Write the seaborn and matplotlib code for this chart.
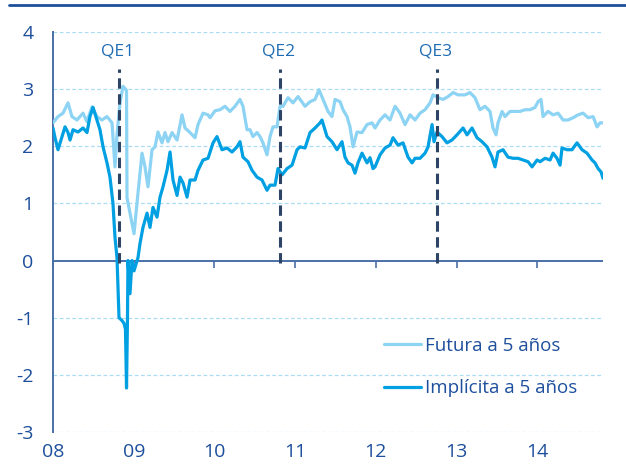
import matplotlib
matplotlib.use("Agg")
import matplotlib.pyplot as plt
import seaborn as sns
import pandas as pd
from matplotlib.lines import Line2D

sns.set_theme(style="white")
plt.rcParams['font.family'] = ['Open Sans', 'DejaVu Sans']
plt.rcParams['axes.unicode_minus'] = False

# ---- data (decimal years, %) ----
fut_t = [2008.000, 2008.062, 2008.124, 2008.186, 2008.235, 2008.297, 2008.372, 2008.421,
         2008.483, 2008.545, 2008.607, 2008.669, 2008.731, 2008.768, 2008.793, 2008.830,
         2008.867, 2008.911, 2008.917, 2008.979, 2009.004, 2009.053, 2009.103, 2009.140,
         2009.177, 2009.227, 2009.264, 2009.301, 2009.351, 2009.388, 2009.425, 2009.475,
         2009.537, 2009.599, 2009.636, 2009.698, 2009.760, 2009.797, 2009.859, 2009.921,
         2009.946, 2010.007, 2010.069, 2010.131, 2010.193, 2010.255, 2010.317, 2010.354,
         2010.404, 2010.441, 2010.478, 2010.528, 2010.565, 2010.602, 2010.652, 2010.689,
         2010.726, 2010.776, 2010.813, 2010.850, 2010.912, 2010.974, 2011.036, 2011.123,
         2011.185, 2011.247, 2011.296, 2011.346, 2011.408, 2011.457, 2011.495, 2011.557,
         2011.594, 2011.643, 2011.680, 2011.718, 2011.767, 2011.829, 2011.891, 2011.953,
         2011.990, 2012.052, 2012.114, 2012.176, 2012.238, 2012.300, 2012.362, 2012.424,
         2012.486, 2012.548, 2012.610, 2012.672, 2012.709, 2012.771, 2012.833, 2012.895,
         2012.957, 2013.019, 2013.105, 2013.167, 2013.229, 2013.291, 2013.353, 2013.415,
         2013.452, 2013.490, 2013.514, 2013.564, 2013.601, 2013.663, 2013.725, 2013.787,
         2013.849, 2013.911, 2013.973, 2014.010, 2014.047, 2014.072, 2014.134, 2014.196,
         2014.258, 2014.320, 2014.382, 2014.444, 2014.506, 2014.568, 2014.630, 2014.692,
         2014.741, 2014.778, 2014.815]
fut_v = [2.41, 2.52, 2.58, 2.76, 2.52, 2.46, 2.58, 2.43,
         2.69, 2.52, 2.46, 2.52, 2.41, 1.64, 2.20, 2.76,
         3.05, 2.98, 1.10, 0.65, 0.47, 1.18, 1.88, 1.64,
         1.29, 1.94, 1.99, 2.25, 2.06, 2.24, 2.08, 2.24,
         2.11, 2.55, 2.32, 2.24, 2.15, 2.38, 2.58, 2.55,
         2.50, 2.62, 2.64, 2.70, 2.61, 2.70, 2.82, 2.70,
         2.29, 2.29, 2.17, 2.24, 2.17, 2.06, 1.85, 2.17,
         2.34, 2.34, 2.70, 2.70, 2.85, 2.76, 2.87, 2.70,
         2.78, 2.82, 2.99, 2.82, 2.61, 2.52, 2.82, 2.78,
         2.64, 2.52, 2.34, 1.99, 2.25, 2.24, 2.38, 2.41,
         2.32, 2.46, 2.55, 2.46, 2.70, 2.58, 2.38, 2.55,
         2.46, 2.58, 2.64, 2.76, 2.90, 2.85, 2.82, 2.87,
         2.94, 2.90, 2.90, 2.94, 2.85, 2.64, 2.70, 2.61,
         2.32, 2.20, 2.41, 2.61, 2.52, 2.61, 2.61, 2.61,
         2.64, 2.64, 2.68, 2.78, 2.82, 2.52, 2.61, 2.55,
         2.58, 2.46, 2.46, 2.50, 2.55, 2.58, 2.50, 2.52,
         2.34, 2.41, 2.41]

imp_t = [2008.000, 2008.025, 2008.062, 2008.112, 2008.149, 2008.186, 2008.211, 2008.248,
         2008.310, 2008.372, 2008.421, 2008.458, 2008.496, 2008.545, 2008.582, 2008.620,
         2008.669, 2008.706, 2008.743, 2008.768, 2008.793, 2008.805, 2008.818, 2008.855,
         2008.880, 2008.898, 2008.911, 2008.923, 2008.929, 2008.954, 2008.979, 2009.004,
         2009.053, 2009.078, 2009.115, 2009.165, 2009.202, 2009.239, 2009.289, 2009.326,
         2009.363, 2009.413, 2009.450, 2009.487, 2009.537, 2009.574, 2009.611, 2009.661,
         2009.698, 2009.760, 2009.797, 2009.859, 2009.921, 2009.983, 2010.032, 2010.094,
         2010.156, 2010.218, 2010.280, 2010.317, 2010.354, 2010.416, 2010.466, 2010.528,
         2010.590, 2010.652, 2010.689, 2010.751, 2010.788, 2010.838, 2010.900, 2010.962,
         2011.024, 2011.061, 2011.123, 2011.185, 2011.247, 2011.309, 2011.333, 2011.395,
         2011.457, 2011.519, 2011.581, 2011.618, 2011.656, 2011.705, 2011.742, 2011.779,
         2011.829, 2011.891, 2011.928, 2011.965, 2011.990, 2012.052, 2012.114, 2012.176,
         2012.213, 2012.275, 2012.337, 2012.399, 2012.449, 2012.486, 2012.548, 2012.610,
         2012.647, 2012.697, 2012.721, 2012.758, 2012.820, 2012.882, 2012.944, 2013.006,
         2013.081, 2013.130, 2013.192, 2013.254, 2013.316, 2013.378, 2013.440, 2013.477,
         2013.514, 2013.576, 2013.638, 2013.700, 2013.762, 2013.824, 2013.886, 2013.936,
         2013.998, 2014.035, 2014.097, 2014.159, 2014.196, 2014.245, 2014.283, 2014.307,
         2014.369, 2014.431, 2014.493, 2014.555, 2014.617, 2014.679, 2014.716, 2014.754,
         2014.791, 2014.815]
imp_v = [2.32, 2.15, 1.94, 2.17, 2.34, 2.24, 2.11, 2.29,
         2.25, 2.32, 2.24, 2.52, 2.68, 2.46, 2.29, 1.99,
         1.71, 1.46, 1.00, 0.41, 0.05, -0.47, -1.00, -1.05,
         -1.10, -1.20, -2.23, -1.00, 0.00, -0.58, 0.00, -0.18,
         0.05, 0.30, 0.58, 0.83, 0.58, 0.93, 0.76, 1.11,
         1.29, 1.58, 1.90, 1.41, 1.14, 1.46, 1.36, 1.11,
         1.41, 1.41, 1.58, 1.76, 1.79, 2.06, 2.17, 1.94,
         1.97, 1.90, 1.99, 2.08, 1.81, 1.73, 1.58, 1.46,
         1.41, 1.23, 1.32, 1.32, 1.61, 1.50, 1.61, 1.67,
         1.94, 1.99, 1.97, 2.24, 2.32, 2.41, 2.46, 2.17,
         2.08, 1.94, 2.08, 1.81, 1.71, 1.67, 1.53, 1.71,
         1.88, 1.71, 1.80, 1.61, 1.64, 1.85, 1.97, 2.02,
         2.15, 2.02, 2.06, 1.81, 1.71, 1.79, 1.79, 1.88,
         1.99, 2.38, 2.08, 2.25, 2.17, 2.06, 2.11, 2.20,
         2.32, 2.20, 2.32, 2.15, 2.08, 1.99, 1.81, 1.64,
         1.90, 1.94, 1.81, 1.79, 1.79, 1.76, 1.73, 1.64,
         1.76, 1.73, 1.79, 1.76, 1.88, 1.79, 1.67, 1.97,
         1.94, 1.94, 2.06, 1.94, 1.88, 1.76, 1.71, 1.61,
         1.55, 1.44]

series_names = ["Futura a 5 años", "Implícita a 5 años"]
year_ticks = [2008, 2009, 2010, 2011, 2012, 2013, 2014]
year_labels = ["08", "09", "10", "11", "12", "13", "14"]
y_ticks = [-3, -2, -1, 0, 1, 2, 3, 4]
qe_t = [2008.818, 2010.813, 2012.763]
qe_labels = ["QE1", "QE2", "QE3"]

# ---- style ----
LIGHT = "#8dd3f3"
DARK = "#00a0e2"
TXT = "#1d4f9c"
QE_TXT = "#1f6db4"
AXC = "#4a70a8"
GRID = "#aadcf4"
QE_LINE = "#2e4466"

fig = plt.figure(figsize=(6.26, 4.67), dpi=100)
fig.patch.set_facecolor("white")
ax = fig.add_axes([53/626, 35/467, 550/626, 400/467])
ax.set_facecolor("white")

df_f = pd.DataFrame({"t": fut_t, "v": fut_v})
df_i = pd.DataFrame({"t": imp_t, "v": imp_v})
sns.lineplot(data=df_f, x="t", y="v", ax=ax, color=LIGHT, lw=2.3,
             estimator=None, label=series_names[0], zorder=3)
sns.lineplot(data=df_i, x="t", y="v", ax=ax, color=DARK, lw=2.3,
             estimator=None, label=series_names[1], zorder=4)

ax.set_xlim(2008.0, 2014.815)
ax.set_ylim(-3, 4)
ax.set_xlabel("")
ax.set_ylabel("")

# grid
for yv in y_ticks:
    if yv != 0:
        ax.axhline(yv, color=GRID, lw=0.9, ls=(0, (3, 2)), zorder=1)

# zero axis with ticks
ax.axhline(0, color=AXC, lw=1.4, zorder=2)
sec = ax.secondary_xaxis(3/7)
sec.set_xticks(year_ticks)
sec.tick_params(axis="x", direction="out", length=5, width=1.2, color=AXC,
                labelbottom=False, labeltop=False)
for s in sec.spines.values():
    s.set_visible(False)

# spines
for side in ["top", "right", "bottom"]:
    ax.spines[side].set_visible(False)
ax.spines["left"].set_color(AXC)
ax.spines["left"].set_linewidth(1.4)

ax.set_xticks(year_ticks)
ax.set_xticklabels(year_labels)
ax.set_yticks(y_ticks)
ax.tick_params(axis="x", length=0, pad=8, labelsize=14, labelcolor=TXT)
ax.tick_params(axis="y", length=0, pad=14, labelsize=14, labelcolor=TXT)

# QE lines and labels
for t, lab in zip(qe_t, qe_labels):
    ax.plot([t, t], [-0.05, 3.35], color=QE_LINE, lw=2.2, ls=(0, (3.4, 1.8)), zorder=5)
    ax.text(t - 0.02, 3.66, lab, color=QE_TXT, fontsize=12.5, ha="center", va="center")

leg = ax.legend(loc="center left", bbox_to_anchor=(0.602, 0.1625), frameon=False,
                handlelength=1.95, handletextpad=0.25, labelspacing=1.3, borderpad=0,
                borderaxespad=0, fontsize=13.5)
for txt in leg.get_texts():
    txt.set_color(TXT)
for h in leg.get_lines():
    h.set_linewidth(2.3)

fig.add_artist(Line2D([9/626, 1.0], [1 - 5/467, 1 - 5/467], transform=fig.transFigure,
                      color="#1d4f9c", lw=2))

fig.savefig("out.png", dpi=100, facecolor="white")
